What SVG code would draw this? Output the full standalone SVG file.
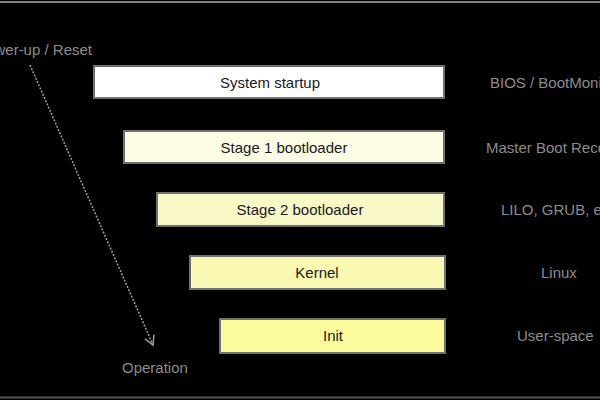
<svg xmlns="http://www.w3.org/2000/svg" width="600" height="400" viewBox="0 0 600 400">
<defs>
<style>
.box{stroke:#707070;stroke-width:2}
.bt{font-family:"Liberation Sans",Arial,sans-serif;font-size:15px;fill:#1a1a1a;text-anchor:middle}
.lbl{font-family:"Liberation Sans",Arial,sans-serif;font-size:15px;fill:#8c8c8c}
.conn{stroke:#a0a0a0;stroke-width:1.5;fill:none}
</style>
<marker id="ah" markerWidth="12" markerHeight="12" refX="10" refY="6" orient="auto" markerUnits="userSpaceOnUse">
<path d="M1,1 L10,6 L1,11" fill="none" stroke="#a0a0a0" stroke-width="1.5"/>
</marker>
</defs>
<rect width="600" height="400" fill="#000"/>
<line x1="0" y1="2" x2="600" y2="2" stroke="#808080" stroke-width="2"/>
<line x1="0" y1="397.5" x2="600" y2="397.5" stroke="#555" stroke-width="2"/>
<g id="startup"><rect class="box" x="94" y="66" width="350" height="32" fill="#ffffff"/><text class="bt" x="270" y="87.5">System startup</text></g>
<g id="stage1"><rect class="box" x="124" y="131" width="320" height="32" fill="#fcfce4"/><text class="bt" x="284" y="152.5">Stage 1 bootloader</text></g>
<g id="stage2"><rect class="box" x="157" y="193" width="287" height="33" fill="#f9f9c8"/><text class="bt" x="300" y="214.5">Stage 2 bootloader</text></g>
<g id="kernel"><rect class="box" x="190" y="256" width="255" height="33" fill="#f8f8b2"/><text class="bt" x="317" y="277.5">Kernel</text></g>
<g id="init"><rect class="box" x="220" y="319" width="225" height="34" fill="#fcfc9c"/><text class="bt" x="333" y="341">Init</text></g>
<g id="labels">
<text class="lbl" x="92" y="55" text-anchor="end">Power-up / Reset</text>
<text class="lbl" x="122" y="373">Operation</text>
<text class="lbl" x="490" y="87.5">BIOS / BootMonitor</text>
<text class="lbl" x="486" y="152.5">Master Boot Record</text>
<text class="lbl" x="501" y="214.5">LILO, GRUB, etc</text>
<text class="lbl" x="541" y="277.5">Linux</text>
<text class="lbl" x="517" y="341">User-space</text>
</g>
<g id="connectors">
<line class="conn" x1="30" y1="65" x2="153" y2="345" stroke-dasharray="2,1.5" marker-end="url(#ah)"/>
</g>
</svg>
